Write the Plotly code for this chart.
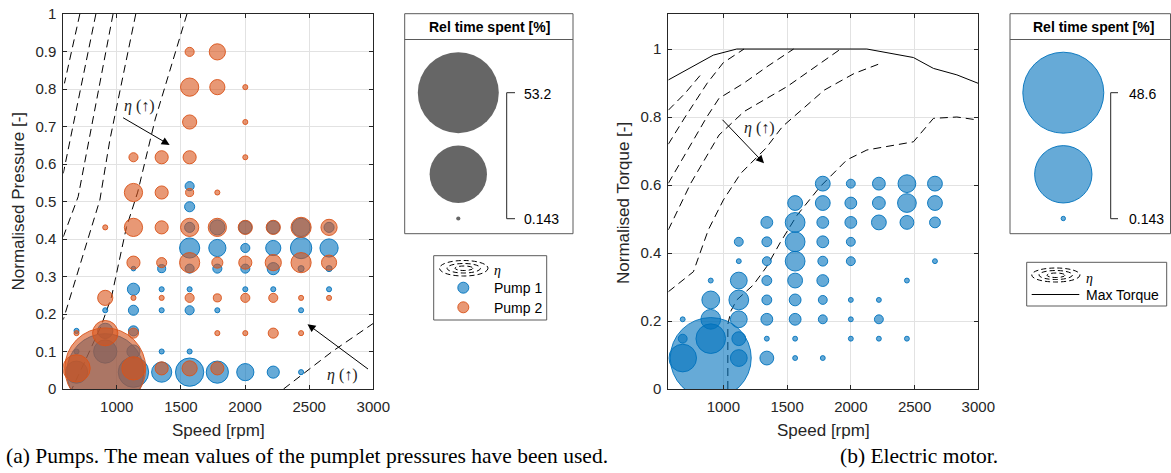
import math
import plotly.graph_objects as go

W, H = 1171, 473

# ------------------------------------------------------------------ data
# Pump 1 (blue): speed [rpm], normalised pressure [-], relative time spent [%]
pump1_speed = [686, 686, 686,
               910, 910, 910, 910,
               1130, 1130, 1130, 1130, 1130, 1130,
               1350, 1350, 1350, 1350, 1350,
               1568, 1568, 1568, 1568, 1568, 1568, 1568, 1568, 1568,
               1784, 1784, 1784, 1784, 1784,
               2002, 2002, 2002, 2002, 2002,
               2220, 2220, 2220, 2220, 2220,
               2437, 2437, 2437, 2437, 2437,
               2655, 2655, 2655, 2655]
pump1_pressure = [0.045, 0.100, 0.155,
                  0.045, 0.100, 0.155, 0.210,
                  0.045, 0.100, 0.155, 0.210, 0.266, 0.321,
                  0.045, 0.100, 0.210, 0.266, 0.321,
                  0.045, 0.100, 0.210, 0.266, 0.321, 0.376, 0.431, 0.486, 0.541,
                  0.045, 0.210, 0.321, 0.376, 0.431,
                  0.045, 0.266, 0.321, 0.376, 0.431,
                  0.045, 0.266, 0.321, 0.376, 0.431,
                  0.045, 0.210, 0.321, 0.376, 0.431,
                  0.266, 0.321, 0.376, 0.431]
pump1_time = [4.0, 0.21, 0.21,
              48.0, 4.4, 1.9, 0.21,
              7.5, 1.4, 0.83, 0.83, 1.2, 0.17,
              3.3, 0.21, 0.21, 0.21, 0.53,
              6.5, 0.21, 0.67, 0.21, 0.67, 3.3, 0.83, 0.83, 0.67,
              4.0, 0.21, 0.67, 2.4, 1.87,
              2.4, 0.21, 0.67, 0.67, 1.4,
              1.2, 0.21, 1.2, 1.87, 1.4,
              0.21, 0.21, 0.3, 3.7, 2.7,
              0.21, 0.3, 2.7, 0.83]

# Pump 2 (orange)
pump2_speed = [686, 686,
               910, 910, 910, 910,
               1130, 1130, 1130, 1130, 1130, 1130, 1130,
               1350, 1350, 1350, 1350, 1350, 1350,
               1568, 1568, 1568, 1568, 1568, 1568, 1568, 1568, 1568,
               1784, 1784, 1784, 1784, 1784, 1784, 1784, 1784,
               2002, 2002, 2002, 2002, 2002, 2002, 2002,
               2220, 2220, 2220, 2220,
               2437, 2437, 2437, 2437,
               2655, 2655, 2655]
pump2_pressure = [0.055, 0.149,
                  0.055, 0.149, 0.243, 0.431,
                  0.055, 0.149, 0.243, 0.337, 0.431, 0.524, 0.618,
                  0.055, 0.243, 0.337, 0.431, 0.524, 0.618,
                  0.055, 0.243, 0.337, 0.431, 0.524, 0.618, 0.712, 0.805, 0.899,
                  0.055, 0.149, 0.243, 0.337, 0.431, 0.524, 0.805, 0.899,
                  0.149, 0.243, 0.337, 0.431, 0.618, 0.712, 0.805,
                  0.149, 0.243, 0.337, 0.431,
                  0.149, 0.243, 0.337, 0.431,
                  0.243, 0.337, 0.431]
pump2_time = [6.1, 0.21,
              53.2, 5.2, 1.87, 0.21,
              4.4, 0.83, 0.21, 1.4, 2.7, 2.7, 0.67,
              1.4, 0.21, 0.83, 1.4, 1.4, 1.4,
              1.87, 0.67, 3.3, 2.7, 0.53, 1.4, 1.63, 2.7, 0.67,
              1.4, 0.21, 0.53, 1.0, 2.7, 0.21, 1.87, 2.13,
              0.21, 0.67, 1.4, 1.63, 0.21, 0.21, 0.21,
              0.83, 0.67, 2.13, 1.63,
              0.21, 0.21, 3.3, 3.3,
              0.21, 1.87, 2.13]

# Electric motor: speed [rpm], normalised torque [-], relative time spent [%]
motor_speed = [681, 681, 681,
               901, 901, 901, 901, 901,
               1121, 1121, 1121, 1121, 1121, 1121, 1121,
               1341, 1341, 1341, 1341, 1341, 1341, 1341, 1341,
               1563, 1563, 1563, 1563, 1563, 1563, 1563, 1563, 1563,
               1780, 1780, 1780, 1780, 1780, 1780, 1780, 1780, 1780,
               2000, 2000, 2000, 2000, 2000, 2000, 2000, 2000,
               2220, 2220, 2220, 2220, 2220, 2220,
               2440, 2440, 2440, 2440, 2440,
               2660, 2660, 2660, 2660]
motor_torque = [0.091, 0.148, 0.205,
                0.091, 0.148, 0.205, 0.262, 0.319,
                0.091, 0.148, 0.205, 0.262, 0.319, 0.376, 0.433,
                0.091, 0.148, 0.205, 0.262, 0.319, 0.376, 0.433, 0.490,
                0.091, 0.148, 0.205, 0.262, 0.319, 0.376, 0.433, 0.490, 0.547,
                0.091, 0.205, 0.262, 0.319, 0.376, 0.433, 0.490, 0.547, 0.604,
                0.148, 0.205, 0.262, 0.376, 0.433, 0.490, 0.547, 0.604,
                0.148, 0.205, 0.262, 0.490, 0.547, 0.604,
                0.148, 0.319, 0.490, 0.547, 0.604,
                0.376, 0.490, 0.547, 0.604]
motor_time = [5.67, 0.59, 0.18,
              48.6, 6.5, 2.89, 2.34, 0.18,
              2.09, 1.42, 2.09, 2.89, 2.09, 0.18, 0.59,
              1.42, 0.18, 1.04, 0.72, 0.72, 0.59, 0.72, 1.04,
              0.18, 0.18, 1.04, 1.04, 1.63, 2.89, 2.89, 2.89, 1.63,
              0.18, 0.59, 0.59, 1.04, 0.72, 1.04, 1.04, 1.63, 1.63,
              0.18, 0.18, 0.18, 0.59, 0.59, 1.04, 1.04, 0.59,
              0.18, 0.59, 0.18, 1.63, 1.22, 1.22,
              0.18, 0.18, 1.42, 2.6, 2.34,
              0.18, 0.87, 1.63, 1.63]

# bubble legends (relative time spent [%])
pump_legend_values = [53.2, 26.67, 0.143]
motor_legend_values = [48.6, 24.37, 0.143]

# efficiency contours, pump map (speed, pressure)
pump_eta_1 = ([712, 592], [1.0, 0.815])
pump_eta_2 = ([837, 583], [1.0, 0.575])
pump_eta_3 = ([971, 842, 699, 583], [1.0, 0.771, 0.513, 0.406])
pump_eta_4 = ([1148, 946, 868, 609, 583], [1.0, 0.664, 0.504, 0.21, 0.185])
pump_eta_5 = ([1547, 1300, 1163, 1075, 959, 880, 760, 650], [1.0, 0.72, 0.525, 0.431, 0.246, 0.17, 0.08, 0.0])
pump_eta_6 = ([2300, 2680, 3000], [0.0, 0.10, 0.175])

# electric motor map (speed, torque)
max_torque = ([568, 921, 1105, 2126, 2491, 2648, 2832, 3000],
              [0.909, 0.982, 1.0, 1.0, 0.975, 0.943, 0.924, 0.899])
motor_eta_1 = ([568, 700, 835], [0.82, 0.87, 0.93])
motor_eta_2 = ([568, 700, 874, 1000, 1162], [0.72, 0.80, 0.90, 0.96, 1.0])
motor_eta_3 = ([568, 744, 870, 966, 1162, 1350, 1551], [0.605, 0.72, 0.80, 0.855, 0.90, 0.95, 1.0])
motor_eta_4 = ([568, 744, 966, 1162, 1502, 1920], [0.468, 0.605, 0.747, 0.816, 0.89, 1.0])
motor_eta_5 = ([568, 765, 817, 882, 1000, 1136, 1333, 1464, 1791, 2026, 2235],
               [0.286, 0.345, 0.40, 0.468, 0.556, 0.634, 0.708, 0.772, 0.879, 0.928, 0.958])
motor_eta_6 = ([1035, 1035, 1060, 1105, 1235, 1340, 1445, 1576, 1759, 1969, 2126, 2491, 2648, 2832, 3000],
               [0.0, 0.19, 0.23, 0.262, 0.306, 0.36, 0.43, 0.51, 0.595, 0.674, 0.703, 0.727, 0.796, 0.80, 0.791])

speed_ticks = [1000, 1500, 2000, 2500, 3000]
pressure_ticks = [0, 0.1, 0.2, 0.3, 0.4, 0.5, 0.6, 0.7, 0.8, 0.9, 1]
torque_ticks = [0, 0.2, 0.4, 0.6, 0.8, 1]

# ------------------------------------------------------------------ styling
BLUE_FILL = "rgba(0,114,189,0.6)"
BLUE_EDGE = "rgba(0,114,189,0.9)"
ORANGE_FILL = "rgba(217,83,25,0.6)"
ORANGE_EDGE = "rgba(217,83,25,0.9)"
GRAY_FILL = "rgba(0,0,0,0.6)"
AX = "#262626"
GRID = "#e2e2e2"
SANS = "Liberation Sans, Arial, sans-serif"
SERIF = "Liberation Serif, Times New Roman, serif"
DMAX = 81.0
DASH = "8px,5px"


def diam(values, vmax):
    return [DMAX * math.sqrt(v / vmax) for v in values]


fig = go.Figure()

# contours (pump)
for sx, sy in [pump_eta_1, pump_eta_2, pump_eta_3, pump_eta_4, pump_eta_5, pump_eta_6]:
    fig.add_trace(go.Scatter(x=sx, y=sy, mode="lines", xaxis="x", yaxis="y",
                             line=dict(color="black", width=1, dash=DASH),
                             showlegend=False, hoverinfo="skip"))

# bubbles (pump)
pmax = pump_legend_values[0]
fig.add_trace(go.Scatter(x=pump1_speed, y=pump1_pressure, mode="markers", xaxis="x", yaxis="y",
                         marker=dict(size=diam(pump1_time, pmax), sizemode="diameter", opacity=1,
                                     color=BLUE_FILL, line=dict(color=BLUE_EDGE, width=1)),
                         showlegend=False))
fig.add_trace(go.Scatter(x=pump2_speed, y=pump2_pressure, mode="markers", xaxis="x", yaxis="y",
                         marker=dict(size=diam(pump2_time, pmax), sizemode="diameter", opacity=1,
                                     color=ORANGE_FILL, line=dict(color=ORANGE_EDGE, width=1)),
                         showlegend=False))

# motor map
fig.add_trace(go.Scatter(x=max_torque[0], y=max_torque[1], mode="lines", xaxis="x2", yaxis="y2",
                         line=dict(color="black", width=1), showlegend=False, hoverinfo="skip"))
for sx, sy in [motor_eta_1, motor_eta_2, motor_eta_3, motor_eta_4, motor_eta_5, motor_eta_6]:
    fig.add_trace(go.Scatter(x=sx, y=sy, mode="lines", xaxis="x2", yaxis="y2",
                             line=dict(color="black", width=1, dash=DASH),
                             showlegend=False, hoverinfo="skip"))
mmax = motor_legend_values[0]
fig.add_trace(go.Scatter(x=motor_speed, y=motor_torque, mode="markers", xaxis="x2", yaxis="y2",
                         marker=dict(size=diam(motor_time, mmax), sizemode="diameter", opacity=1,
                                     color=BLUE_FILL, line=dict(color=BLUE_EDGE, width=1)),
                         showlegend=False))

# ------------------------------------------------------------------ legend overlays (pixel axis x3/y3)
fig.add_trace(go.Scatter(x=[458.3, 458.3, 458.3], y=[92.7, 174.3, 218.5], mode="markers",
                         xaxis="x3", yaxis="y3",
                         marker=dict(size=diam(pump_legend_values, pmax), sizemode="diameter", opacity=1,
                                     color=GRAY_FILL, line=dict(width=0)),
                         showlegend=False, hoverinfo="skip"))
fig.add_trace(go.Scatter(x=[1063.3, 1063.3, 1063.3], y=[92.7, 174.3, 218.5], mode="markers",
                         xaxis="x3", yaxis="y3",
                         marker=dict(size=diam(motor_legend_values, mmax), sizemode="diameter", opacity=1,
                                     color=BLUE_FILL, line=dict(color=BLUE_EDGE, width=1)),
                         showlegend=False, hoverinfo="skip"))
fig.add_trace(go.Scatter(x=[463.3], y=[287.7], mode="markers", xaxis="x3", yaxis="y3",
                         marker=dict(size=11, opacity=1, color=BLUE_FILL, line=dict(color=BLUE_EDGE, width=1)),
                         showlegend=False, hoverinfo="skip"))
fig.add_trace(go.Scatter(x=[463.3], y=[307.3], mode="markers", xaxis="x3", yaxis="y3",
                         marker=dict(size=11, opacity=1, color=ORANGE_FILL, line=dict(color=ORANGE_EDGE, width=1)),
                         showlegend=False, hoverinfo="skip"))

shapes = []
ann = []


def rect(x0, y0, x1, y1):
    shapes.append(dict(type="rect", xref="x3", yref="y3", x0=x0, y0=y0, x1=x1, y1=y1,
                       line=dict(color="#5a5a5a", width=1), fillcolor="white", layer="below"))


def seg(x0, y0, x1, y1, dash=None, color=AX):
    ln = dict(color=color, width=1)
    if dash:
        ln["dash"] = dash
    shapes.append(dict(type="line", xref="x3", yref="y3", x0=x0, y0=y0, x1=x1, y1=y1, line=ln))


def ellipse(x0, y0, x1, y1):
    shapes.append(dict(type="circle", xref="x3", yref="y3", x0=x0, y0=y0, x1=x1, y1=y1,
                       line=dict(color="black", width=1, dash="5px,3px")))


def text(x, y, s, size=14, anchor="left", family=SANS, color="#000000", angle=0, bold=False):
    if bold:
        s = "<b>" + s + "</b>"
    ann.append(dict(xref="x3", yref="y3", x=x, y=y, text=s, showarrow=False,
                    xanchor=anchor, yanchor="middle", textangle=angle,
                    font=dict(family=family, size=size, color=color)))


# left bubble legend
rect(404.7, 13.7, 573, 233.7)
seg(404.7, 39.5, 573, 39.5, color="#5a5a5a")
text(489, 27, "Rel time spent [%]", size=14, anchor="center", bold=True)
seg(506.7, 92.7, 506.7, 218.7)
seg(506.7, 92.7, 515, 92.7)
seg(506.7, 218.7, 515, 218.7)
text(522, 93.5, "53.2", size=14)
text(522, 219, "0.143", size=14)

# right bubble legend
rect(1010, 13.7, 1170.5, 233.7)
seg(1010, 39.5, 1170.5, 39.5, color="#5a5a5a")
text(1093, 27, "Rel time spent [%]", size=14, anchor="center", bold=True)
seg(1110.7, 92.7, 1110.7, 218.7)
seg(1110.7, 92.7, 1118, 92.7)
seg(1110.7, 218.7, 1118, 218.7)
text(1126.5, 93.5, "48.6", size=14)
text(1126.5, 219, "0.143", size=14)

# left series legend
rect(433.7, 255.7, 546.7, 320)
ellipse(439.5, 260.5, 488, 276)
ellipse(447, 263.5, 480.5, 273)
ellipse(455, 266, 473, 270.5)
text(492, 270, "<i>η</i>", size=14, family=SERIF)
text(491.5, 288, "Pump 1", size=14)
text(491.5, 307.5, "Pump 2", size=14)

# right series legend
rect(1026.7, 262.3, 1166.7, 306)
ellipse(1031.7, 268, 1080, 282)
ellipse(1039, 270.5, 1072.5, 279.5)
ellipse(1047, 273, 1065, 277.5)
text(1084, 278, "<i>η</i>", size=14, family=SERIF)
seg(1031.7, 294.5, 1079.3, 294.5, color="black")
text(1083.5, 294.5, "Max Torque", size=14)

# axis titles
text(218, 430, "Speed [rpm]", size=17, anchor="center", color=AX)
text(823, 430, "Speed [rpm]", size=17, anchor="center", color=AX)
text(18, 201.5, "Normalised Pressure [-]", size=17, anchor="center", color=AX, angle=-90)
text(623, 203, "Normalised Torque [-]", size=17, anchor="center", color=AX, angle=-90)

# captions
text(4, 456, "(a) Pumps. The mean values of the pumplet pressures have been used.", size=21.5, family=SERIF)
text(838, 456, "(b) Electric motor.", size=21.5, family=SERIF)

# efficiency arrows and labels
ETA = "<i>η</i> (↑)"
ann.append(dict(xref="x", yref="y", x=1412, y=0.651, ax=-48, ay=-28, text="", showarrow=True,
                arrowhead=2, arrowsize=1.6, arrowwidth=1, arrowcolor="black"))
ann.append(dict(xref="x", yref="y", x=1179, y=0.755, text=ETA, showarrow=False,
                font=dict(family=SERIF, size=16, color="#222")))
ann.append(dict(xref="x", yref="y", x=2487, y=0.173, ax=62, ay=46, text="", showarrow=True,
                arrowhead=2, arrowsize=1.6, arrowwidth=1, arrowcolor="black"))
ann.append(dict(xref="x", yref="y", x=2757, y=0.037, text=ETA, showarrow=False,
                font=dict(family=SERIF, size=16, color="#222")))
ann.append(dict(xref="x2", yref="y2", x=1319, y=0.664, ax=-43, ay=-45, text="", showarrow=True,
                arrowhead=2, arrowsize=1.6, arrowwidth=1, arrowcolor="black"))
ann.append(dict(xref="x2", yref="y2", x=1280, y=0.768, text=ETA, showarrow=False,
                font=dict(family=SERIF, size=16, color="#222")))

common_axis = dict(showline=True, linecolor=AX, linewidth=1, mirror="allticks",
                   ticks="inside", ticklen=4, tickcolor=AX, tickwidth=1,
                   showgrid=True, gridcolor=GRID, gridwidth=1, zeroline=False,
                   automargin=False, fixedrange=True,
                   tickfont=dict(family=SANS, size=15, color=AX))

ydom = [1 - 389 / H, 1 - 14 / H]
fig.update_layout(
    width=W, height=H,
    margin=dict(l=0, r=0, t=0, b=0),
    paper_bgcolor="white", plot_bgcolor="rgba(0,0,0,0)",
    showlegend=False,
    xaxis=dict(domain=[63.3 / W, 373.3 / W], range=[583, 3000], tickvals=speed_ticks,
               anchor="y", ticklabelstandoff=4, **common_axis),
    yaxis=dict(domain=ydom, range=[0, 1], tickvals=pressure_ticks, anchor="x",
               ticklabelstandoff=3, **common_axis),
    xaxis2=dict(domain=[668.3 / W, 978.3 / W], range=[568, 3000], tickvals=speed_ticks,
                anchor="y2", ticklabelstandoff=4, **common_axis),
    yaxis2=dict(domain=ydom, range=[0, 1.103], tickvals=torque_ticks, anchor="x2",
                ticklabelstandoff=3, **common_axis),
    xaxis3=dict(domain=[0, 1], range=[0, W], visible=False, fixedrange=True, anchor="y3"),
    yaxis3=dict(domain=[0, 1], range=[H, 0], visible=False, fixedrange=True, anchor="x3"),
    shapes=shapes,
    annotations=ann,
)

fig.write_html("out.html", config={"displayModeBar": False},
               post_script="document.body.style.margin='0';document.body.style.overflow='hidden';")
